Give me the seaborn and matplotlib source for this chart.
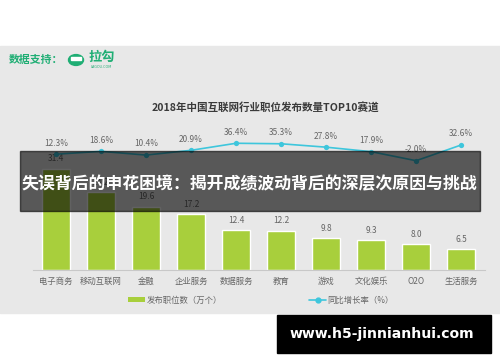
import matplotlib
matplotlib.use("Agg")
import matplotlib.pyplot as plt
from matplotlib.patches import Rectangle, Circle, Patch
from matplotlib.lines import Line2D
import numpy as np
import pandas as pd
import seaborn as sns

# data
categories = ["电子商务", "移动互联网", "金融", "企业服务", "数据服务",
              "教育", "游戏", "文化娱乐", "O2O", "生活服务"]
postings = [31.4, 24.2, 19.6, 17.2, 12.4, 12.2, 9.8, 9.3, 8.0, 6.5]
growth = [12.3, 18.6, 10.4, 20.9, 36.4, 35.3, 27.8, 17.9, -2.0, 32.6]

title = "2018年中国互联网行业职位发布数量TOP10赛道"
banner = "失误背后的申花困境：揭开成绩波动背后的深层次原因与挑战"
watermark = "www.h5-jinnianhui.com"

bar_color = "#a8cf3c"
line_color = "#3ec6dc"
bg_gray = "#e8e8e8"
text_gray = "#666666"
lagou_green = "#1fae74"

sns.set_theme(style="white")
plt.rcParams["font.family"] = ["Noto Sans CJK SC", "DejaVu Sans"]

df = pd.DataFrame({"cat": categories, "pos": np.arange(len(categories)),
                   "n": postings, "g": growth})

W, H = 500, 362
fig = plt.figure(figsize=(W / 100, H / 100), dpi=100)
fig.patch.set_facecolor("white")


def fx(px):
    return px / W


def fy(py):
    return 1 - py / H


# gray panel of the screenshot
fig.add_artist(Rectangle((0, fy(313)), 1, fy(46) - fy(313),
                         transform=fig.transFigure, color=bg_gray, zorder=0))

ax = fig.add_axes([fx(33), fy(270), fx(485) - fx(33), fy(140) - fy(270)])
ax.set_facecolor("none")
sns.barplot(data=df, x="pos", y="n", color=bar_color, width=0.62,
            saturation=1, ax=ax, zorder=2)
ax.set_xlim(-0.51, 9.53)
ax.set_ylim(0, 40.25)
ax.set_xticks(df["pos"])
ax.set_xticklabels(categories, fontsize=6, color=text_gray)
ax.tick_params(axis="x", length=0, pad=5)
ax.set_yticks([])
ax.set_xlabel("")
ax.set_ylabel("")
for s in ["top", "left", "right"]:
    ax.spines[s].set_visible(False)
ax.spines["bottom"].set_color("#c8c8c8")
ax.spines["bottom"].set_linewidth(0.8)
for x, v in zip(df["pos"], postings):
    ax.annotate(f"{v:.1f}", (x, v), xytext=(0, 7), textcoords="offset points",
                ha="center", va="center", fontsize=6, color=text_gray)

ax2 = ax.twinx()
sns.lineplot(data=df, x="pos", y="g", color=line_color, lw=1.2, marker="o",
             markersize=3.8, markeredgewidth=0, ax=ax2, zorder=3)
ax2.set_ylim(-242.7, 43.6)
ax2.set_xlim(-0.51, 9.53)
ax2.set_yticks([])
ax2.set_xlabel("")
ax2.set_ylabel("")
for s in ax2.spines.values():
    s.set_visible(False)
for x, v in zip(df["pos"], growth):
    ax2.annotate(f"{v:.1f}%", (x, v), xytext=(0, 8), textcoords="offset points",
                 ha="center", va="center", fontsize=6, color=text_gray)

fig.text(fx(265), fy(108), title, ha="center", va="center", fontsize=7.6,
         fontweight="bold", color="#3a3a3a")

# source line with lagou logo
fig.text(fx(9), fy(60), "数据支持：", ha="left", va="center", fontsize=7.8,
         fontweight="bold", color=lagou_green)
fig.add_artist(Circle((fx(76), fy(60)), 7.5 / W, transform=fig.transFigure,
                      color=lagou_green, zorder=3))
fig.add_artist(Rectangle((fx(71), fy(60)), 10 / W, 3 / H, transform=fig.transFigure,
                         color="white", zorder=4))
fig.text(fx(89), fy(57), "拉勾", ha="left", va="center", fontsize=9.5,
         fontweight="bold", color=lagou_green)
fig.text(fx(91), fy(67), "LAGOU.COM", ha="left", va="center", fontsize=2.4,
         color=lagou_green, family="DejaVu Sans")

# legend
handles = [Patch(facecolor=bar_color, edgecolor="none"),
           Line2D([], [], color=line_color, lw=1.2, marker="o", markersize=3.5)]
fig.legend(handles, ["发布职位数（万个）", "同比增长率（%）"], ncol=2,
           loc="center", bbox_to_anchor=(fx(261), fy(300)), frameon=False,
           fontsize=6, labelcolor=text_gray, handlelength=2.0, handleheight=0.5,
           handletextpad=0.2, columnspacing=10.5)

# overlay banner
fig.add_artist(Rectangle((fx(20), fy(211)), fx(480) - fx(20), fy(151) - fy(211),
                         transform=fig.transFigure, color="black", alpha=0.62,
                         zorder=10))
fig.text(fx(249), fy(184), banner, ha="center", va="center", fontsize=12.2,
         fontweight="bold", color="white", zorder=11)

# watermark box
fig.add_artist(Rectangle((fx(277), fy(353)), fx(491) - fx(277), fy(315) - fy(353),
                         transform=fig.transFigure, color="black", zorder=10))
fig.text(fx(382), fy(334), watermark, ha="center", va="center", fontsize=10.1,
         fontweight="bold", color="white", family="DejaVu Sans", zorder=11)

fig.savefig("out.png", dpi=100)
